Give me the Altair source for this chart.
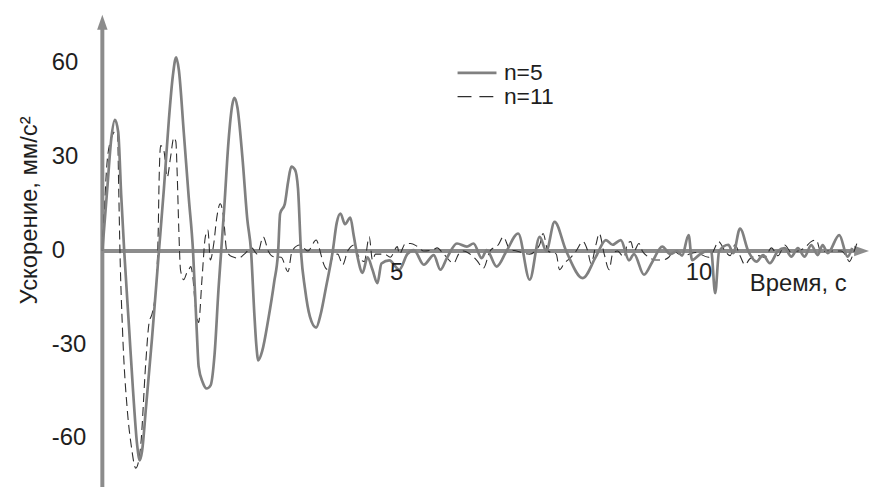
import altair as alt
import pandas as pd

# ---- data (time in s, acceleration in mm/s^2) ----
t5 = [0.00, 0.080, 0.145, 0.204, 0.257, 0.305, 0.354, 0.434, 0.498, 0.563, 0.606, 0.643, 0.707, 0.804,
      0.916, 0.997, 1.077, 1.141, 1.195, 1.238, 1.318, 1.399, 1.468, 1.527, 1.559, 1.624, 1.688, 1.752,
      1.817, 1.881, 1.924, 1.977, 2.042, 2.106, 2.138, 2.186, 2.267, 2.347, 2.407, 2.460, 2.492, 2.524,
      2.588, 2.685, 2.781, 2.846, 2.878, 2.953, 3.006, 3.059, 3.119, 3.167, 3.215, 3.280, 3.360, 3.461,
      3.537, 3.617, 3.730, 3.794, 3.854, 3.928, 4.014, 4.068, 4.132, 4.212, 4.293, 4.373, 4.453, 4.518,
      4.646, 4.807, 4.936, 5.043, 5.204, 5.365, 5.471, 5.579, 5.740, 5.900, 6.008, 6.141, 6.222, 6.383,
      6.543, 6.731, 6.918, 7.079, 7.186, 7.320, 7.508, 7.777, 7.990, 8.151, 8.259, 8.392, 8.526, 8.606,
      8.767, 8.902, 9.063, 9.196, 9.304, 9.384, 9.490, 9.545, 9.678, 9.791, 9.855, 9.920, 9.984, 10.133,
      10.214, 10.322, 10.455, 10.590, 10.696, 10.804, 10.937, 11.045, 11.153, 11.259, 11.367, 11.474,
      11.580, 11.660, 11.741, 11.929, 12.063, 12.138]
a5 = [0, 20, 36, 42, 38, 18, 0, -25, -45, -62, -67, -64, -50, -28,
      0, 20, 42, 56, 62, 58, 38, 17, 0, -25, -37, -42, -44, -43,
      -33, -12, 0, 15, 35, 47, 49, 46, 30, 10, 0, -20, -30, -35,
      -32, -22, -10, 0, 12, 15, 22, 27, 26, 20, 0, -12, -21, -24.5,
      -20, -12, 0, 9, 12, 8.6, 10.7, 5, -2, -7, -2, -6, -10.3, -4,
      -3, -6, -1, 0.3, -4.4, -1.3, -6, -2.2, 2.4, 1.4, 2.4, -2.3, 0.3, -5,
      0, 5.6, -9.2, 4.5, 0, 9.3, 0, -8.7, -1.8, 3.5, 2, 3.5, -3, -1,
      -7.6, -3.5, 1.4, -1, 0, -1.5, 5.1, -2.9, -1, 0, 0, -13.5, 0, 2,
      -0.7, 7.2, 0, -3.4, -1.3, -3.9, 0, 0.9, -1.8, 0.9, -1.8, 1.9,
      -1.3, 1.9, -0.7, 5.1, -1.8, 1]

t11 = [0, 0.032, 0.064, 0.129, 0.220, 0.246, 0.265, 0.285, 0.326, 0.407, 0.466, 0.542, 0.579, 0.622,
       0.703, 0.756, 0.809, 0.863, 0.905, 0.916, 0.944, 0.997, 1.050, 1.104, 1.158, 1.190, 1.211, 1.238,
       1.265, 1.318, 1.367, 1.399, 1.431, 1.463, 1.506, 1.559, 1.613, 1.667, 1.709, 1.748, 1.801, 1.854,
       1.908, 1.961, 2.014, 2.095, 2.203, 2.299, 2.416, 2.508, 2.605, 2.685, 2.765, 2.894, 3.006, 3.071,
       3.195, 3.328, 3.461, 3.537, 3.569, 3.650, 3.730, 3.810, 3.891, 3.971, 4.024, 4.084, 4.132, 4.240,
       4.320, 4.373, 4.421, 4.566, 4.662, 4.775, 4.807, 4.908, 4.989, 5.096, 5.204, 5.365, 5.418, 5.526,
       5.687, 5.767, 5.847, 5.953, 6.061, 6.169, 6.275, 6.410, 6.490, 6.596, 6.704, 6.918, 7.079, 7.134,
       7.214, 7.347, 7.400, 7.476, 7.588, 7.669, 7.777, 7.857, 7.910, 7.990, 8.043, 8.124, 8.204, 8.259,
       8.339, 8.445, 8.500, 8.553, 8.606, 8.686, 8.741, 8.847, 8.955, 9.063, 9.169, 9.250, 9.330, 9.410,
       9.598, 9.812, 9.892, 9.973, 10.080, 10.161, 10.241, 10.322, 10.402, 10.482, 10.616, 10.723, 10.831,
       10.937, 11.045, 11.153, 11.259, 11.367, 11.474, 11.556, 11.635, 11.715, 11.821, 11.956, 12.037,
       12.090, 12.170, 12.223]
a11 = [0, 12, 25, 35, 38.4, 38, 20, 0, -25, -51.6, -62, -69.5, -68, -62,
       -35.7, -23, -19.8, -12.4, 6.7, 20, 33.7, 32, 23.6, 30, 36.3, 35, 25, 6.7,
       -6, -9.2, -7, -6, -5, -8, -17.7, -22.9, -9, 4.5, 6.7, -2.9, 2, 10.9,
       15.1, 10.9, 0, -1.8, -2.3, -1, 1, -1, 4.5, 0, -1.8, -2, -6.6, 0,
       1.9, 0, 3.5, -1, -3.4, -6, -2, -1, -4.4, 0, 1.4, 2, -1, -3.4,
       4.5, -3, -1, -1, -2, 1.4, -1, 2.4, 2.4, 1.5, 0, 0.5, 1, -1,
       -3.9, -1, 0, -1, -3, -5.5, 0, 2, 4.5, 0.5, 0, -1, 2, 5.6,
       0, -1, -6, -4, -2, 0, 3, 0, -4, 2, 5.6, -1, -6, -1,
       0, -2, 2.4, 3, 0, 2.4, 0, -2, -2.9, -2.9, -2, 0, -1, -1.5,
       -0.5, -2, 0, 3, 0, -1.5, 2, -1.5, -4.4, -2.5, -1.5, -2, 1,
       -1.5, 1.9, -0.5, 0, 1, 3, 3.5, -0.5, 0, 0, 0, -1.5,
       -3.4, 0, 3]

y_ticks = [60, 30, 0, -30, -60]
x_ticks = [5, 10]
legend_labels = ["n=5", "n=11"]
y_title = "Ускорение, мм/с²"
x_title = "Время, с"

FONT = "Liberation Sans"
AX = "#8c8c8c"
TXT = "#1e1e1e"

xs = alt.Scale(domain=[0, 12.41], nice=False, zero=False)
ys = alt.Scale(domain=[-75, 75], nice=False, zero=False)


def X(f):
    return alt.X(f, type="quantitative", scale=xs, axis=None)


def Y(f):
    return alt.Y(f, type="quantitative", scale=ys, axis=None)


df5 = pd.DataFrame({"t": t5, "a": a5})
df11 = pd.DataFrame({"t": t11, "a": a11})

# axis lines
yaxis = alt.Chart(pd.DataFrame({"x": [0], "y": [-77], "y2": [71]})).mark_rule(
    color=AX, strokeWidth=4).encode(x=X("x"), y=Y("y"), y2="y2")
xaxis = alt.Chart(pd.DataFrame({"x": [0], "x2": [12.2], "y": [0]})).mark_rule(
    color=AX, strokeWidth=4).encode(x=X("x"), x2="x2", y=Y("y"))

up_arrow = alt.Chart(pd.DataFrame({"x": [0], "y": [73.2]})).mark_point(
    shape="M-0.7,1L0,-1L0.7,1Z", filled=True, size=225, color=AX, opacity=1, strokeWidth=0
).encode(x=X("x"), y=Y("y"))
right_arrow = alt.Chart(pd.DataFrame({"x": [12.29], "y": [0]})).mark_point(
    shape="M-1,-0.7L1,0L-1,0.7Z", filled=True, size=225, color=AX, opacity=1, strokeWidth=0
).encode(x=X("x"), y=Y("y"))

line11 = alt.Chart(df11).mark_line(
    color="#2e2e2e", strokeWidth=1.1, strokeDash=[9, 5], interpolate="monotone"
).encode(x=X("t"), y=Y("a"))
line5 = alt.Chart(df5).mark_line(
    color="#808080", strokeWidth=2.7, interpolate="monotone"
).encode(x=X("t"), y=Y("a"))

# tick labels
ylab = alt.Chart(pd.DataFrame({"v": y_ticks, "s": [str(v) for v in y_ticks]})).mark_text(
    align="left", baseline="middle", font=FONT, fontSize=24, color=TXT
).encode(x=alt.value(-51), y=Y("v"), text="s:N")
xlab = alt.Chart(pd.DataFrame({"v": x_ticks, "s": [str(v) for v in x_ticks], "z": [0, 0]})).mark_text(
    align="right", baseline="middle", font=FONT, fontSize=24, color=TXT, dx=-8, dy=22
).encode(x=X("v"), y=Y("z"), text="s:N")

xtitle = alt.Chart(pd.DataFrame({"x": [10.48], "y": [0], "s": [x_title]})).mark_text(
    align="left", baseline="middle", font=FONT, fontSize=24, color=TXT, dy=33
).encode(x=X("x"), y=Y("y"), text="s:N")
ytitle = alt.Chart(pd.DataFrame({"y": [13], "s": [y_title]})).mark_text(
    align="center", baseline="middle", font=FONT, fontSize=24, color=TXT, angle=270
).encode(x=alt.value(-73), y=Y("y"), text="s:N")

# legend
leg = pd.DataFrame({"x": [5.75, 5.75], "x2": [6.38, 6.38], "y": [57.0, 49.4],
                    "tx": [6.5, 6.5], "s": legend_labels})
leg_solid = alt.Chart(leg.iloc[[0]]).mark_rule(color="#808080", strokeWidth=2.7).encode(
    x=X("x"), x2="x2", y=Y("y"))
leg_dash = alt.Chart(leg.iloc[[1]]).mark_rule(color="#2e2e2e", strokeWidth=1.1, strokeDash=[14, 8]).encode(
    x=X("x"), x2="x2", y=Y("y"))
leg_text = alt.Chart(leg).mark_text(
    align="left", baseline="middle", font=FONT, fontSize=23, color=TXT
).encode(x=X("tx"), y=Y("y"), text="s:N")

chart = alt.layer(
    yaxis, xaxis, up_arrow, right_arrow, line11, line5,
    ylab, xlab, xtitle, ytitle, leg_solid, leg_dash, leg_text
).properties(
    width=772, height=472, autosize="none",
    padding={"left": 95, "top": 7, "right": 0, "bottom": 0},
    background="white"
).configure_view(stroke=None)

chart.save("out.html", embed_options={"renderer": "svg", "actions": False})
